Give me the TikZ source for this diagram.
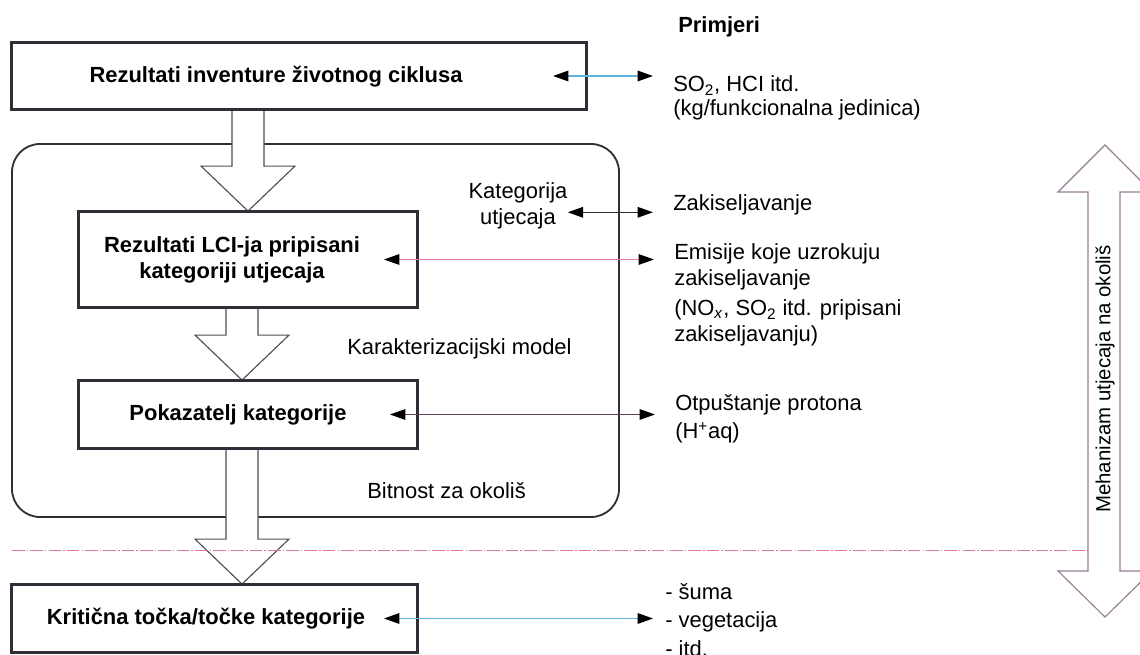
\documentclass[tikz,border=0pt]{standalone}
\usepackage{fontspec}
\setmainfont{Liberation Sans}
\usetikzlibrary{arrows.meta,calc}

\definecolor{crtaplava}{RGB}{95,180,220}
\definecolor{crtaroza}{RGB}{225,120,170}
\definecolor{crtaljub}{RGB}{105,60,90}
\definecolor{tamna}{RGB}{50,45,55}
\definecolor{sivaroza}{RGB}{150,125,150}

\tikzset{
	okvir/.style={draw=tamna,line width=1.3pt},
	tekst/.style={inner sep=0pt,align=left,font=\fontsize{15.6}{18.5}\selectfont},
	naslov/.style={inner sep=0pt,align=center,font=\fontsize{15.6}{19}\selectfont\bfseries},
	veza/.style={<->,>={Triangle[length=11pt,width=7.5pt,color=black]},line width=1.1pt,
		shorten <=-0.85cm,shorten >=0.5cm},
	siroka/.style={draw=tamna!85!white,fill=white,line width=0.8pt}
}

\begin{document}
\begin{tikzpicture}[x=0.025cm,y=-0.025cm]
		\useasboundingbox (0,0) rectangle (1140,655);

		% okvir oko karakterizacije
		\draw[okvir,rounded corners=0.7cm] (12,144) rectangle (619,517);

		% kutije lijevo
		\node[okvir,minimum width=14.35cm,minimum height=1.65cm] (inv) at (299,76) {};
		\node[okvir,minimum width=8.45cm,minimum height=2.375cm] (lci) at (248,259.5) {};
		\node[okvir,minimum width=8.45cm,minimum height=1.675cm] (pok) at (248,414.5) {};
		\node[okvir,minimum width=10.125cm,minimum height=1.675cm] (krit) at (214.5,618.5) {};

		\coordinate (os1) at (248,0);
		\coordinate (os2) at (242,0);

		% siroke strelice
		\foreach \osa/\gore/\dolje in {os1/inv/lci, os2/lci/pok, os2/pok/krit}
			\draw[siroka] ($(\gore.south -| \osa)+(-16,0)$) |- ($(\dolje.north -| \osa)+(-47,-45)$)
				-- (\dolje.north -| \osa) -- ($(\dolje.north -| \osa)+(47,-45)$) -| ($(\gore.south -| \osa)+(16,0)$);

		% kutije ponovno, da rub ostane cijel
		\foreach \k in {inv,lci,pok,krit}
			\draw[okvir] (\k.north west) rectangle (\k.south east);

		\node[naslov] (invtxt) at (276,77) {Rezultati inventure životnog ciklusa};
		\node[naslov] (lcitxt) at (232,260) {Rezultati LCI-ja pripisani\\kategoriji utjecaja};
		\node[naslov] (poktxt) at (238,415) {Pokazatelj kategorije};
		\node[naslov] (krittxt) at (206,619) {Kritična točka/točke kategorije};

		\node[tekst,align=center] (kat) at (518,205.5) {Kategorija\\utjecaja};
		\node[tekst,anchor=west] (karakt) at (347,349) {Karakterizacijski model};
		\node[tekst,anchor=west] (bitnost) at (367,491) {Bitnost za okoliš};

		% primjeri desno
		\node[naslov,anchor=west] (primjeri) at (678,27) {Primjeri};
		\node[tekst,anchor=west,font=\fontsize{15.6}{17}\selectfont] (so) at (673,98)
			{SO\textsubscript{2}, HCI itd.\\(kg/funkcionalna jedinica)};
		\node[tekst,anchor=west] (zak) at (673,205) {Zakiseljavanje};
		\node[tekst,anchor=west] (emi) at (674,294.5)
			{Emisije koje uzrokuju\\zakiseljavanje\\[3pt](NO\textsubscript{\textit{x}}, SO\textsubscript{2} itd. pripisani\\zakiseljavanju)};
		\node[tekst,anchor=west] (otp) at (675,419) {Otpuštanje protona\\[1.5pt](H\textsuperscript{+}aq)};
		\node[tekst,anchor=west] (prim) at (665,620) {- šuma\\[2pt]- vegetacija\\[2pt]- itd.};

		% veze
		\draw[veza,crtaplava] (inv.east) -- (inv.east -| so.west);
		\draw[veza,crtaroza] (lci.east) -- (lci.east -| emi.west);
		\draw[veza,tamna,shorten <=0pt] ([yshift=-0.17cm]kat.east) -- ([yshift=-0.17cm]kat.east -| zak.west);
		\draw[veza,crtaljub,shorten <=-0.7cm] (pok.east) -- (pok.east -| otp.west);
		\draw[veza,crtaplava,shorten >=0.3cm] (krit.east) -- (krit.east -| prim.west);

		% isprekidana granica
		\draw[crtaroza,line width=0.6pt,dash pattern=on 9pt off 1.5pt on 1pt off 1.5pt] (12,550) -- (1088,550);

		% mehanizam, dvostruka strelica
		\draw[sivaroza,line width=0.8pt] (1088,192) -- (1058,192) -- (1105,145) -- (1152,192) -- (1120,192)
			-- (1120,571) -- (1152,571) -- (1105,617) -- (1058,571) -- (1088,571) -- cycle;
		\node[inner sep=0pt,rotate=90,font=\fontsize{14.5}{17}\selectfont] (meh) at (1105,379) {Mehanizam utjecaja na okoliš};
\end{tikzpicture}
\end{document}
